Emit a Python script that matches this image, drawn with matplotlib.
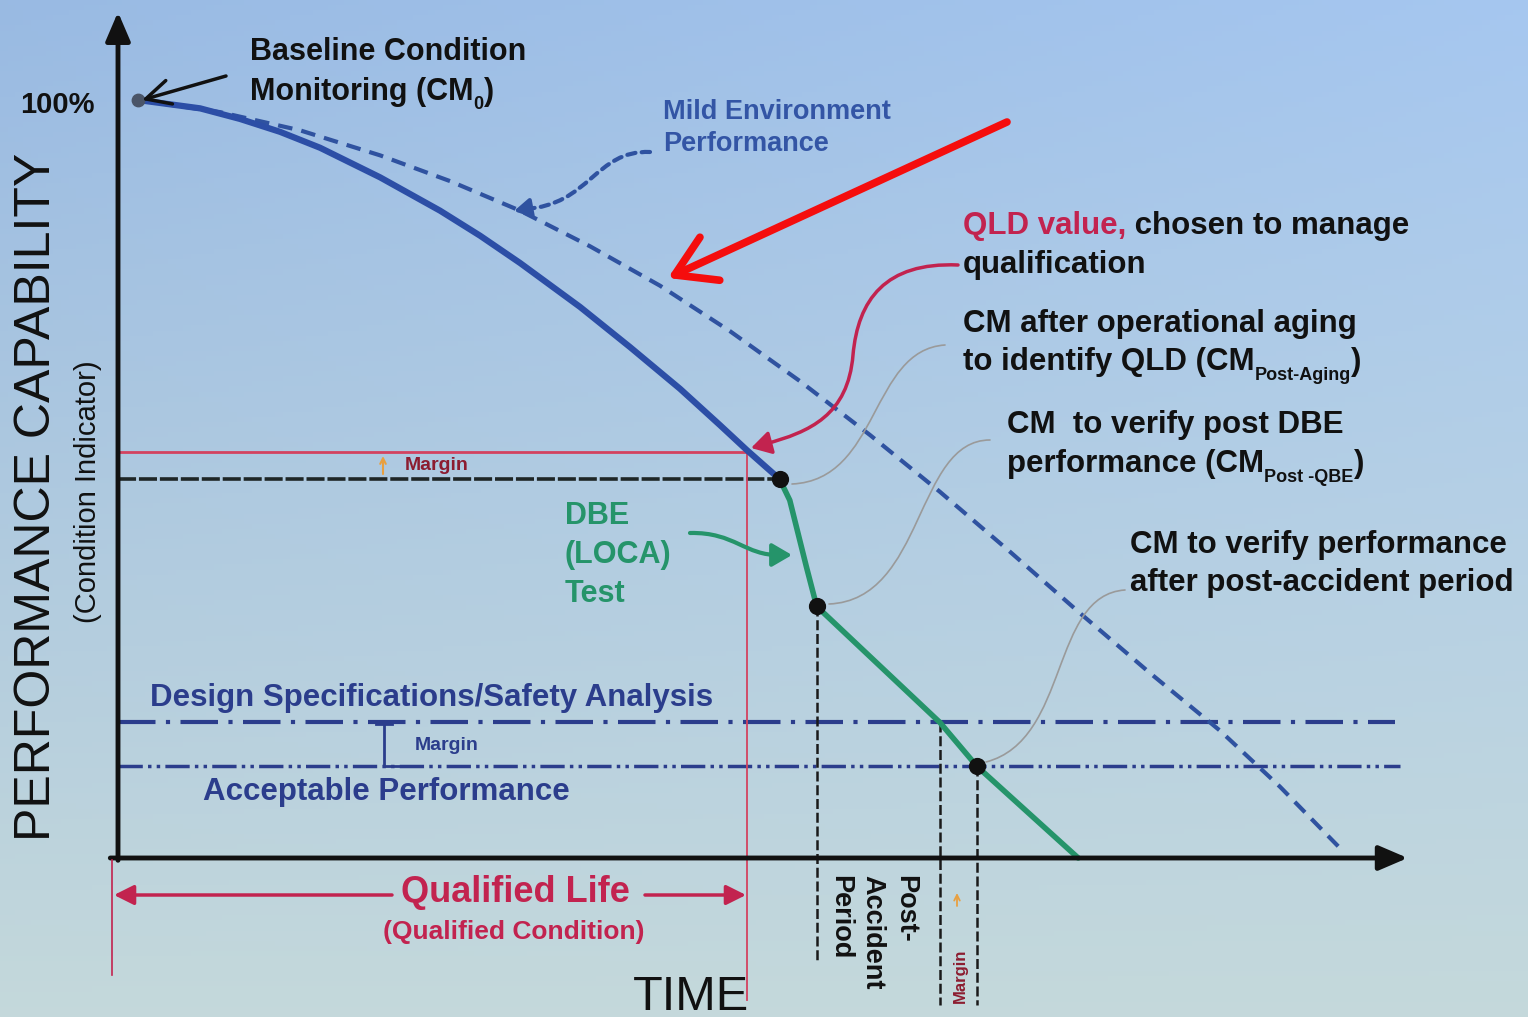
import numpy as np
import matplotlib.pyplot as plt
from matplotlib.path import Path
from matplotlib.patches import PathPatch

plt.rcParams['font.family'] = ['Liberation Sans', 'DejaVu Sans']

# values: time in % of the axis, performance in %
aging_t = [1.56, 6.40, 9.52, 12.64, 15.76, 20.44, 25.12, 28.24, 31.36, 36.04, 39.94,
           43.84, 46.96, 49.06, 51.6]
aging_p = [100, 98.9, 97.5, 95.8, 93.7, 89.8, 85.4, 82.1, 78.5, 72.7, 67.4,
           61.9, 57.1, 53.8, 50.0]

mild_t = [1.56, 7.96, 14.2, 20.44, 25.9, 31.36, 36.82, 42.28, 47.74, 53.2, 58.66,
          64.12, 69.58, 75.04, 80.5, 85.96, 90.64, 95.32]
mild_p = [100, 98.4, 96.0, 92.7, 89.3, 85.4, 80.7, 75.5, 69.5, 62.9, 55.8,
          48.3, 40.4, 32.3, 24.4, 16.8, 9.4, 1.3]

dbe_t = [51.6, 52.4, 53.7, 54.5, 64.1, 67.0, 74.9]
dbe_p = [50.0, 47.2, 38.4, 33.2, 17.9, 12.1, 0.0]

cm_t = [1.56, 51.6, 54.5, 67.0]
cm_p = [100, 50.0, 33.2, 12.1]

qld_level = 53.6
cm_aging = 50.0
design_spec = 17.9
acceptable = 12.1
qual_life_end = 49.1

# colours
navy = '#2b3d8c'
crimson = '#c2234f'
green = '#25946a'
blue = '#2c4ea6'

W, H = 1528, 1017
X0, XS = 118, 12.82     # pixel of t=0, pixels per time unit
Y0, YS = 858, 7.58      # pixel of p=0, pixels per %

fig = plt.figure(figsize=(W / 100, H / 100), dpi=100)
ax = fig.add_axes([0, 0, 1, 1])
x_lo, x_hi = -X0 / XS, (W - X0) / XS
y_lo, y_hi = (Y0 - H) / YS, Y0 / YS
ax.set_xlim(x_lo, x_hi)
ax.set_ylim(y_lo, y_hi)
ax.axis('off')

# background
yy, xx = np.mgrid[0:1:200j, 0:1:200j]
top = np.array([0.60, 0.73, 0.89])
bot = np.array([0.77, 0.85, 0.86])
img = top * (1 - yy[..., None]) + bot * yy[..., None] + 0.05 * (xx * (1 - yy))[..., None]
ax.imshow(np.clip(img, 0, 1), extent=[x_lo, x_hi, y_lo, y_hi], aspect='auto',
          origin='upper', zorder=0)

# curves
ax.plot(mild_t, mild_p, color='#2f52a0', lw=3.0, ls=(0, (3.5, 2.2)), zorder=3)
ax.plot(aging_t, aging_p, color=blue, lw=4.5, solid_capstyle='round', zorder=4)
ax.plot(dbe_t, dbe_p, color=green, lw=4, solid_capstyle='round', zorder=4)

# reference levels
ax.plot([0, qual_life_end], [qld_level] * 2, color='#d3425f', lw=2, zorder=2)
ax.plot([0, aging_t[-1]], [cm_aging] * 2, color='#1e2626', lw=2.6, ls=(0, (5, 0.8)), zorder=2)
ax.plot([0, 99.6], [design_spec] * 2, color=navy, lw=3, ls=(0, (9, 2.5, 1, 2.5)), zorder=2)
ax.plot([0, 100], [acceptable] * 2, color=navy, lw=2.5,
        ls=(0, (7, 1.5, 1, 1.5, 1, 1.5)), zorder=2)

# verticals
ax.plot([qual_life_end] * 2, [qld_level, -18.7], color='#d3425f', lw=1.3, zorder=2)
ax.plot([cm_t[2]] * 2, [cm_p[2], -13.5], color='#1a1a1a', lw=1.8, ls=(0, (4, 1.5)), zorder=2)
ax.plot([dbe_t[4]] * 2, [design_spec, -19.4], color='#1a1a1a', lw=1.8, ls=(0, (4, 1.5)), zorder=2)
ax.plot([cm_t[3]] * 2, [acceptable, -19.4], color='#1a1a1a', lw=1.8, ls=(0, (4, 1.5)), zorder=2)

# condition monitoring points
ax.scatter(cm_t[:1], cm_p[:1], s=80, marker='o', color='#4a5568', zorder=6)
ax.scatter(cm_t[1:], cm_p[1:], s=130, marker='o', color='#111111', zorder=6)

# axes with arrow heads
axis_arrow = dict(arrowstyle='-|>,head_length=0.7,head_width=0.3', lw=3.5, color='#111111',
                  mutation_scale=25, shrinkA=0, shrinkB=0)
ax.annotate('', xy=(0, 111.6), xytext=(0, -0.3), arrowprops=axis_arrow, zorder=5)
ax.annotate('', xy=(100.6, 0), xytext=(-0.6, 0), arrowprops=axis_arrow, zorder=5)

# overlay in pixel coordinates for the annotations
ov = fig.add_axes([0, 0, 1, 1])
ov.set_xlim(0, W)
ov.set_ylim(H, 0)
ov.axis('off')


def txt(x, y, s, size=22.5, color='#111111', weight='bold', **kw):
    kw.setdefault('ha', 'left')
    kw.setdefault('va', 'center')
    return ov.text(x, y, s, fontsize=size, color=color, fontweight=weight, **kw)


def after(prev, s, size=22.5, color='#111111', dy=0, ycoords=None):
    return ov.annotate(s, xy=(1, 0), xycoords=(prev, ycoords or prev), xytext=(0, dy),
                       textcoords='offset points', fontsize=size, color=color,
                       fontweight='bold', ha='left', va='bottom')


def curve(verts, color, lw, ls='-', head=None, head_from=None, hs=18):
    codes = [Path.MOVETO] + [Path.CURVE4] * (len(verts) - 1)
    ov.add_patch(PathPatch(Path(verts, codes), fill=False, ec=color, lw=lw, ls=ls,
                           capstyle='round'))
    if head is not None:
        ov.annotate('', xy=head, xytext=head_from,
                    arrowprops=dict(arrowstyle='-|>,head_length=0.6,head_width=0.35',
                                    color=color, lw=lw, mutation_scale=hs,
                                    shrinkA=0, shrinkB=0))


txt(95, 105, '100%', 21, ha='right')
txt(250, 52, 'Baseline Condition', 22)
m = txt(250, 92, 'Monitoring (CM', 22)
s0 = after(m, '0', 13, dy=-4)
after(s0, ')', 22, ycoords=m)
ov.annotate('', xy=(142, 100), xytext=(226, 76),
            arrowprops=dict(arrowstyle='->,head_length=0.7,head_width=0.35', lw=2.5,
                            color='#111111', mutation_scale=25, shrinkA=0, shrinkB=0))

txt(663, 112, 'Mild Environment', 19.5, color='#3355a5')
txt(663, 144, 'Performance', 19.5, color='#3355a5')
curve([(650, 152), (595, 150), (590, 205), (525, 209)], '#2f52a0', 3, ls=(0, (2, 1.5)),
      head=(514, 211), head_from=(530, 208), hs=16)

q = txt(963, 226, 'QLD value,', color=crimson)
after(q, ' chosen to manage')
txt(963, 265, 'qualification')
curve([(958, 265), (885, 262), (858, 300), (853, 355), (848, 415), (810, 432), (765, 444)],
      crimson, 2.5, head=(751, 448), head_from=(766, 444), hs=20)

txt(963, 324, 'CM after operational aging')
a = txt(963, 362, 'to identify QLD (CM')
sa = after(a, 'Post-Aging', 13, dy=-5)
after(sa, ')', ycoords=a)

txt(1007, 425, 'CM  to verify post DBE')
b = txt(1007, 464, 'performance (CM')
sb = after(b, 'Post -QBE', 13, dy=-5)
after(sb, ')', ycoords=b)

txt(1130, 545, 'CM to verify performance')
txt(1130, 583, 'after post-accident period')

# thin grey connectors to the CM points
curve([(945, 345), (870, 350), (880, 480), (792, 484)], '#9a9a9a', 1.2)
curve([(990, 440), (915, 440), (925, 600), (829, 604)], '#9a9a9a', 1.2)
curve([(1125, 590), (1050, 595), (1070, 740), (986, 762)], '#9a9a9a', 1.2)

# DBE label
for y, s in zip([516, 555, 594], ['DBE', '(LOCA)', 'Test']):
    txt(565, y, s, 22, color=green)
curve([(690, 533), (735, 532), (745, 556), (780, 555)], green, 3,
      head=(792, 555), head_from=(778, 555), hs=20)

# margins
txt(405, 465, 'Margin', 14, color='#8c1c30')
ov.annotate('', xy=(383, 456), xytext=(383, 474),
            arrowprops=dict(arrowstyle='->', color='#e8a040', lw=1.5, shrinkA=0, shrinkB=0))
txt(150, 698, 'Design Specifications/Safety Analysis', color=navy)
txt(203, 792, 'Acceptable Performance', color=navy)
txt(415, 746, 'Margin', 14, color=navy)
ov.plot([376, 392], [724, 724], color=navy, lw=2)
ov.plot([384, 384, 400], [724, 766, 766], color=navy, lw=2)

# qualified life
txt(515, 893, 'Qualified Life', 26, color=crimson, ha='center')
txt(514, 932, '(Qualified Condition)', 19, color=crimson, ha='center')
ql_arrow = dict(arrowstyle='-|>,head_length=0.6,head_width=0.3', color=crimson, lw=2.5,
                mutation_scale=20, shrinkA=0, shrinkB=0)
ov.annotate('', xy=(114, 895), xytext=(392, 895), arrowprops=ql_arrow)
ov.annotate('', xy=(746, 895), xytext=(645, 895), arrowprops=ql_arrow)
ov.plot([112, 112], [860, 975], color=crimson, lw=1.2)

for x, s in zip([905, 872, 840], ['Post-', 'Accident', 'Period']):
    txt(x, 875, s, 19.5, rotation=-90, rotation_mode='anchor')
txt(960, 1003, 'Margin', 12, color='#8c1c30', rotation=90, rotation_mode='anchor')
ov.annotate('', xy=(957, 893), xytext=(957, 906),
            arrowprops=dict(arrowstyle='->', color='#e8a040', lw=1.3, shrinkA=0, shrinkB=0))

# axis titles
txt(691, 997, 'TIME', 35, weight='normal', ha='center')
txt(37, 497, 'PERFORMANCE CAPABILITY', 36, weight='normal', ha='center', rotation=90)
txt(88, 492, '(Condition Indicator)', 21, weight='normal', ha='center', rotation=90)

# big red pointer
ov.annotate('', xy=(668, 278), xytext=(1007, 122),
            arrowprops=dict(arrowstyle='->,head_length=0.9,head_width=0.55', color='#f50d0d',
                            lw=5.5, mutation_scale=31, shrinkA=0, shrinkB=0,
                            joinstyle='round', capstyle='round'))

fig.savefig('out.png', dpi=100)
